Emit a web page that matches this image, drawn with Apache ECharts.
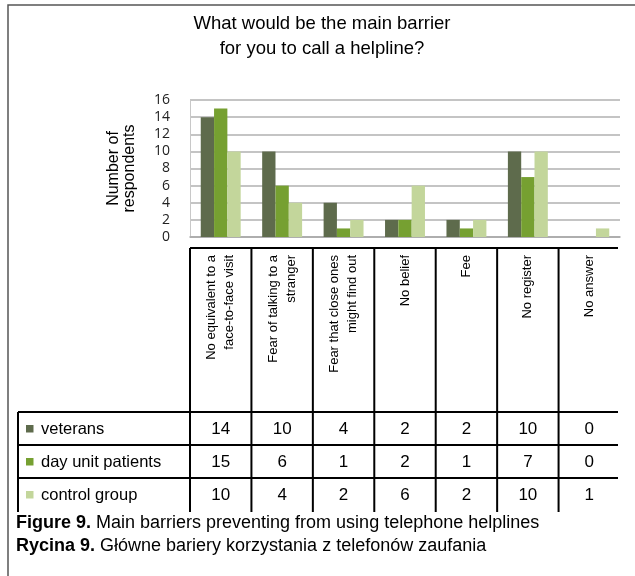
<!DOCTYPE html>
<html>
<head>
<meta charset="utf-8">
<script src="https://cdn.jsdelivr.net/npm/echarts@6/dist/echarts.min.js"></script>
<style>
html,body{margin:0;padding:0;background:#fff;}
#c{width:635px;height:576px;}
</style>
</head>
<body>
<div id="c"></div>
<script>
// ---- data ----
const categories = ['No equivalent to a\nface-to-face visit', 'Fear of talking to a\nstranger', 'Fear that close ones\nmight find out', 'No belief', 'Fee', 'No register', 'No answer'];
const seriesNames = ['veterans', 'day unit patients', 'control group'];
const veterans = [14, 10, 4, 2, 2, 10, 0];
const dayUnit = [15, 6, 1, 2, 1, 7, 0];
const control = [10, 4, 2, 6, 2, 10, 1];
const yTicks = [0, 2, 4, 6, 8, 10, 12, 14, 16];
const titleLines = ['What would be the main barrier', 'for you to call a helpline?'];
const yTitle = 'Number of\nrespondents';
const captions = [['Figure 9.', ' Main barriers preventing from using telephone helplines'], ['Rycina 9.', ' Główne bariery korzystania z telefonów zaufania']];

const colors = ['#5e6b4c', '#76a031', '#c3d69b'];
const seriesData = [veterans, dayUnit, control];
const ARIAL = "'Liberation Sans', Arial, sans-serif";

const chart = echarts.init(document.getElementById('c'), null, {renderer: 'canvas'});
const option = {
  animation: false,
  grid: {left: 190, right: 15, top: 100, bottom: 339, containLabel: false},
  xAxis: {
    type: 'category',
    data: categories,
    axisLine: {show: true, lineStyle: {color: '#a6a6a6', width: 1.5}},
    axisTick: {show: false},
    axisLabel: {
      interval: 0, rotate: 90, margin: 18,
      fontFamily: ARIAL, fontSize: 13, lineHeight: 18, color: '#000'
    },
    splitLine: {show: false}
  },
  yAxis: {
    type: 'value',
    min: yTicks[0], max: yTicks[yTicks.length - 1], interval: yTicks[1] - yTicks[0],
    name: yTitle,
    nameLocation: 'middle',
    nameGap: 52,
    nameRotate: 90,
    nameTextStyle: {fontFamily: ARIAL, fontSize: 16, lineHeight: 16, color: '#000'},
    axisLine: {show: true, lineStyle: {color: '#c8c8c8', width: 1}},
    axisTick: {show: false},
    axisLabel: {margin: 20, fontFamily: "'Liberation Sans Narrow', 'Open Sans', sans-serif", fontSize: 14, color: '#222'},
    splitLine: {show: true, lineStyle: {color: '#b0b0b0', width: 1.5}}
  },
  series: seriesNames.map((n, i) => ({
    name: n, type: 'bar', data: seriesData[i],
    barGap: 0, barCategoryGap: '35%',
    itemStyle: {color: colors[i]}
  }))
};
chart.setOption(option);

// ---- table & texts built from the axis scale ----
const centers = categories.map((_, i) => chart.convertToPixel({xAxisIndex: 0}, i));
const band = centers[1] - centers[0];
const bounds = centers.map(c => c - band / 2);
const rightEnd = centers[centers.length - 1] + band / 2 - 2;
const headTop = 248, headBottom = 412, rowH = 33, tableLeft = 18, vEnd = 512;
const g = [];
const line = (x1, y1, x2, y2, w, col) => g.push({type: 'line', shape: {x1, y1, x2, y2}, style: {stroke: col || '#000', lineWidth: w || 2}, silent: true});

// outer frame
g.push({type: 'rect', shape: {x: 8, y: 5, width: 700, height: 700}, style: {fill: null, stroke: '#555', lineWidth: 1.5}, silent: true});
// title
titleLines.forEach((t, i) => g.push({type: 'text', x: 322, y: 24 + i * 24.5, style: {text: t, fontFamily: ARIAL, fontSize: 18.5, fill: '#000', textAlign: 'center', textVerticalAlign: 'middle'}}));

// header row lines
line(bounds[0], headTop, rightEnd, headTop);
bounds.forEach(b => line(b, headTop, b, vEnd));
line(tableLeft, headBottom, tableLeft, vEnd);
for (let r = 0; r < 3; r++) line(tableLeft, headBottom + r * rowH, rightEnd, headBottom + r * rowH);

// rows
seriesNames.forEach((n, r) => {
  const cy = headBottom + r * rowH + rowH / 2 + 0.5;
  g.push({type: 'rect', shape: {x: 26, y: cy - 4, width: 7.5, height: 7.5}, style: {fill: colors[r]}, silent: true});
  g.push({type: 'text', x: 41, y: cy, style: {text: n, fontFamily: ARIAL, fontSize: 16.5, fill: '#000', textVerticalAlign: 'middle'}});
  seriesData[r].forEach((v, i) => g.push({type: 'text', x: centers[i], y: cy, style: {text: String(v), fontFamily: ARIAL, fontSize: 17, fill: '#000', textAlign: 'center', textVerticalAlign: 'middle'}}));
});

// captions
captions.forEach((c, i) => g.push({type: 'text', x: 16, y: 523 + i * 23, style: {
  text: '{b|' + c[0] + '}' + c[1],
  fontFamily: ARIAL, fontSize: 18, fill: '#000', textVerticalAlign: 'middle',
  rich: {b: {fontFamily: ARIAL, fontSize: 18, fontWeight: 'bold', fill: '#000'}}
}}));

chart.setOption({graphic: {elements: g}});
</script>
</body>
</html>
